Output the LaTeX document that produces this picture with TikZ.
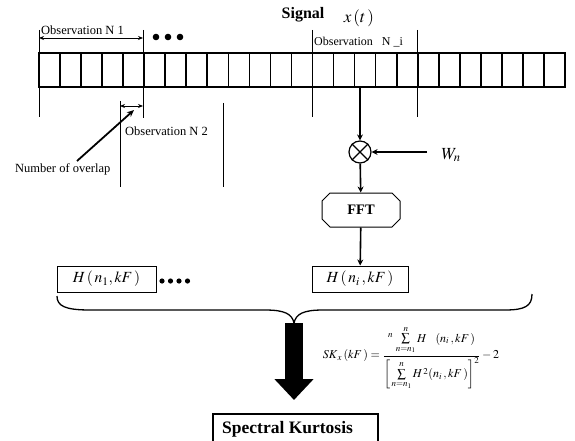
\documentclass[tikz,border=0pt]{standalone}
\usepackage{amsmath}
\usepackage{mathptmx}
\usepackage{fontspec}
\setmainfont{Liberation Serif}
\usetikzlibrary{arrows.meta,shapes.misc}
\begin{document}
\begin{tikzpicture}[x=1pt,y=-1pt,
  vline/.style={line width=1pt},
  conn/.style={line width=1.6pt,-{Stealth[length=6pt,width=6pt]}},
  dim/.style={line width=0.9pt,{Stealth[length=5pt,width=4pt]}-{Stealth[length=5pt,width=4pt]}},
  lbl/.style={font=\fontsize{12.5}{14}\selectfont,inner sep=0pt},
  hbox/.style={draw,line width=1pt,inner sep=0pt,minimum height=26pt,font=\fontsize{15.5}{17}\selectfont},
  dotc/.style={fill=black}]
\useasboundingbox (0,0) rectangle (575,441);
% signal bar
\foreach \k in {1,...,24} \draw[line width=1.7pt] ({39+\k*21.04},53) -- ({39+\k*21.04},87);
\draw[line width=2.4pt] (39,53) rectangle (565,87);
% titles
\node[inner sep=0pt,font=\bfseries\fontsize{16}{18}\selectfont] (sig) at (303,15) {Signal};
\node[inner sep=0pt,font=\fontsize{17}{19}\selectfont] (xt) at (359,18) {$x\,(t\,)$};
% observation N 1
\draw[vline] (39,30) -- (39,117);
\draw[vline] (143,30) -- (143,118);
\coordinate (o1l) at (39,38);
\coordinate (o1r) at (143,38);
\draw[dim] (o1l) -- (o1r);
\node[lbl,anchor=west] (obs1) at (41,30) {Observation N 1};
\foreach \x in {156,168,180} \fill[dotc] (\x,37) circle (3.3pt);
% observation N 2
\draw[vline] (120,101) -- (120,187);
\draw[vline] (223,103) -- (223,187);
\coordinate (o2l) at (120,106);
\coordinate (o2r) at (143,106);
\draw[dim] (o2l) -- (o2r);
\node[lbl,anchor=west] (obs2) at (125,131) {Observation N 2};
\node[lbl,anchor=west] (ovl) at (15,169) {Number of overlap};
\coordinate (ovs) at (77,161);
\coordinate (ove) at (134,110);
\draw[line width=1.8pt,-{Stealth[length=7pt,width=6pt]}] (ovs) -- (ove);
% observation N_i
\draw[vline] (312,30) -- (312,117);
\draw[vline] (417,30) -- (417,117);
\node[lbl,anchor=west,font=\fontsize{12}{13}\selectfont] (obsi) at (314,42) {Observation\ \ \ N \_i};
% processing chain
\coordinate (tap) at (360,87);
\node[draw,circle,line width=1.2pt,minimum size=22pt,inner sep=0pt] (m) at (360,152) {};
\draw[line width=1.2pt] (m.north east) -- (m.south west) (m.north west) -- (m.south east);
\node[inner sep=0pt,font=\fontsize{17}{19}\selectfont] (wn) at (451,155) {$W_n$};
\coordinate (wst) at (427,152);
\node[draw,chamfered rectangle,chamfered rectangle xsep=4pt,chamfered rectangle ysep=4pt,line width=1pt,minimum width=78pt,minimum height=34pt,inner sep=0pt,font=\bfseries\fontsize{14.5}{16}\selectfont] (fft) at (361,210) {FFT};
\node[hbox,minimum width=96pt] (hi) at (360,279) {$H\,(\,n_i\,, kF\,)$};
\node[hbox,minimum width=99pt] (h1) at (106.5,279) {$H\,(\,n_1, kF\,)$};
\foreach \x in {162,170.5,179,187.5} \fill[dotc] (\x,281) circle (2.6pt);
\draw[conn] (tap) -- (m);
\draw[conn] (wst) -- (m);
\draw[conn] (m) -- (fft);
\draw[conn] (fft) -- (hi);
% brace
\coordinate (bl) at (57,296);
\coordinate (br) at (532,294);
\coordinate (btip) at (294,323);
\draw[line width=1.3pt] (bl) .. controls (57,306) and (65,310) .. (90,310) -- (265,310)
  .. controls (285,310) and (292,314) .. (btip)
  .. controls (296,314) and (303,310) .. (323,310) -- (505,310)
  .. controls (525,310) and (532,306) .. (br);
% result
\node[draw,line width=1.8pt,minimum width=165pt,minimum height=36pt,inner sep=0pt,anchor=north west] (sk) at (212,413) {};
\node[inner sep=0pt,anchor=west,font=\bfseries\fontsize{17.5}{19}\selectfont] (skt) at (222,429) {Spectral Kurtosis};
\draw[line width=18pt,-{Triangle[width=38pt,length=21pt]},shorten >=13pt] (btip) -- (btip |- sk.north);
% formula
\node[inner sep=0pt,font=\fontsize{12}{14}\selectfont] (f) at (411,358)
 {$SK_{\,x}\,(kF\,) = \dfrac{{}^{n}\,\sum\limits_{n=n_1}^{n} H\ \ \ (n_i\,, kF\,)}{\left[\,\sum\limits_{n=n_1}^{n} H^{\,2}(n_i\,, kF\,)\right]^2} - 2$};
\end{tikzpicture}
\end{document}
